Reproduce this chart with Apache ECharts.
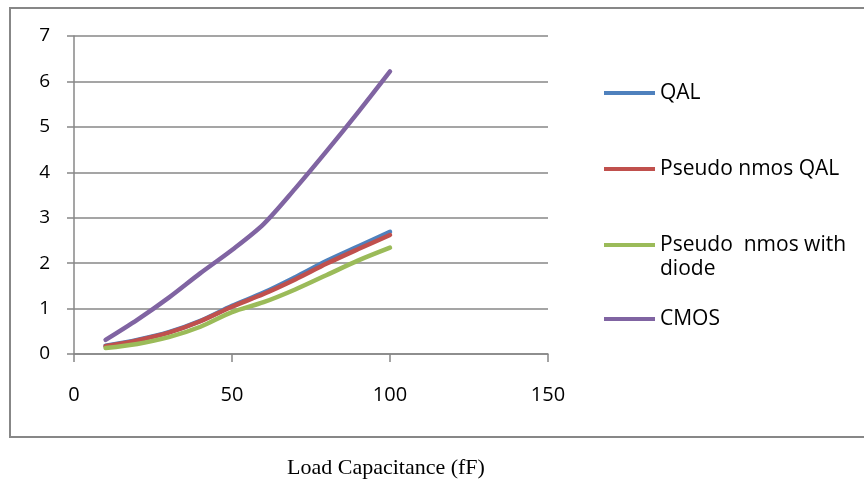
<!DOCTYPE html>
<html>
<head>
<meta charset="utf-8">
<script src="https://cdn.jsdelivr.net/npm/echarts@6/dist/echarts.min.js"></script>
<style>
  html, body { margin: 0; padding: 0; background: #fff; }
  #chart { width: 864px; height: 481px; }
</style>
</head>
<body>
<div id="chart"></div>
<script>
// Load capacitance (fF) on the x axis
const loadCap = [10, 20, 30, 40, 50, 60, 70, 80, 90, 100];

// Series values per logic style
const qal         = [0.18, 0.31, 0.48, 0.73, 1.06, 1.35, 1.69, 2.05, 2.37, 2.69];
const pseudoNmos  = [0.17, 0.30, 0.47, 0.72, 1.04, 1.32, 1.64, 1.99, 2.31, 2.62];
const pseudoDiode = [0.13, 0.22, 0.37, 0.60, 0.92, 1.14, 1.42, 1.74, 2.06, 2.34];
const cmos        = [0.31, 0.75, 1.24, 1.78, 2.29, 2.86, 3.64, 4.47, 5.33, 6.22];

const seriesNames = ['QAL', 'Pseudo nmos QAL', 'Pseudo  nmos with diode', 'CMOS'];
const seriesValues = [qal, pseudoNmos, pseudoDiode, cmos];
const seriesColors = ['#4F81BD', '#C0504D', '#9BBB59', '#8064A2'];

// Axis ticks
const xTicks = { min: 0, max: 150, interval: 50 };
const yTicks = { min: 0, max: 7, interval: 1 };
const xTitle = 'Load Capacitance (fF)';

const chart = echarts.init(document.getElementById('chart'), null, { renderer: 'canvas' });

const gray = '#878787';
const labelFont = 'Open Sans';
const legendLine = 24;

// The long entry wraps; a blank first line keeps its icon level with the first text line
function legendText(n) {
  return n === 'Pseudo  nmos with diode' ? ' \nPseudo  nmos with\ndiode' : n;
}

// One legend block per entry so that each can sit at its own height
const legendCenters = [93, 169, 245, 319];
const legends = seriesNames.map((name, i) => {
  const lines = legendText(name).split('\n').length;
  return {
    orient: 'vertical',
    left: 604,
    top: legendCenters[i] - lines * legendLine / 2,
    padding: 0,
    itemWidth: 51,
    itemHeight: 4,
    icon: 'rect',
    data: [{ name: name }],
    formatter: legendText,
    textStyle: { fontFamily: labelFont, fontSize: 21, color: '#000', lineHeight: legendLine }
  };
});

chart.setOption({
  animation: false,
  backgroundColor: '#fff',
  grid: { left: 74, top: 36, width: 474, height: 318, containLabel: false },
  legend: legends,
  title: {
    text: xTitle,
    left: 287,
    top: 457,
    padding: 0,
    textStyle: { fontFamily: 'Liberation Serif', fontSize: 22, fontWeight: 'normal', color: '#000' }
  },
  graphic: [{
    type: 'rect',
    shape: { x: 10, y: 8, width: 880, height: 429 },
    style: { fill: 'none', stroke: gray, lineWidth: 2 },
    silent: true
  }],
  xAxis: {
    type: 'value',
    min: xTicks.min, max: xTicks.max, interval: xTicks.interval,
    axisLine: { show: true, lineStyle: { color: gray, width: 1.5 } },
    axisTick: { show: true, inside: false, length: 8, lineStyle: { color: gray, width: 1.5 } },
    splitLine: { show: false },
    axisLabel: { margin: 31, fontFamily: labelFont, fontSize: 20, color: '#000' }
  },
  yAxis: {
    type: 'value',
    min: yTicks.min, max: yTicks.max, interval: yTicks.interval,
    axisLine: { show: true, lineStyle: { color: gray, width: 1.5 } },
    axisTick: { show: true, inside: false, length: 7, lineStyle: { color: gray, width: 1.5 } },
    splitLine: { show: true, lineStyle: { color: gray, width: 1.5 } },
    axisLabel: { margin: 24, fontFamily: labelFont, fontSize: 19, color: '#000' }
  },
  series: seriesNames.map((name, i) => ({
    name: name,
    type: 'line',
    smooth: 0.3,
    showSymbol: false,
    color: seriesColors[i],
    lineStyle: { width: 4.5, color: seriesColors[i], cap: 'round', join: 'round' },
    data: loadCap.map((x, k) => [x, seriesValues[i][k]])
  }))
});
</script>
</body>
</html>
